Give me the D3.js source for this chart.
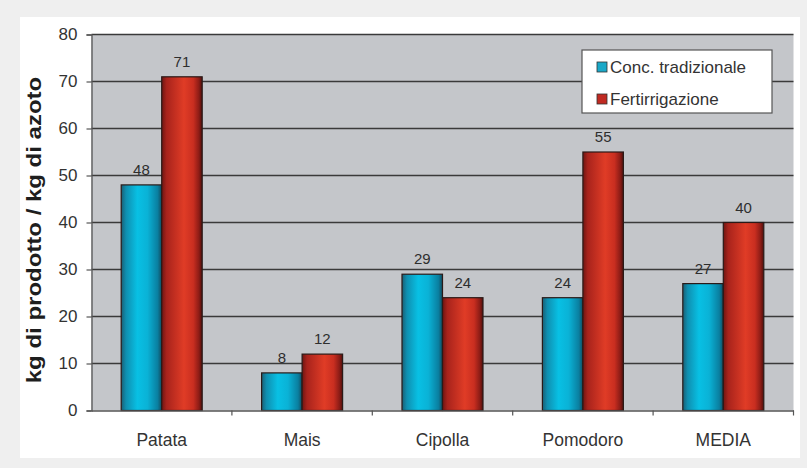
<!DOCTYPE html>
<html>
<head>
<meta charset="utf-8">
<script src="https://cdn.jsdelivr.net/npm/d3@7"></script>
<style>
  html, body { margin: 0; padding: 0; background: #efefef; }
  svg { display: block; }
  text { font-family: "Liberation Sans", Arial, sans-serif; }
</style>
</head>
<body>
<svg id="chart" width="807" height="468"></svg>
<script>
// Nitrogen use efficiency: kg of product per kg of nitrogen
const categories = ["Patata", "Mais", "Cipolla", "Pomodoro", "MEDIA"];
const seriesNames = ["Conc. tradizionale", "Fertirrigazione"];
const tradizionale = [48, 8, 29, 24, 27];
const fertirrigazione = [71, 12, 24, 55, 40];
const yTicks = [0, 10, 20, 30, 40, 50, 60, 70, 80];
const yLabel = "kg di prodotto / kg di azoto";

const svg = d3.select("#chart");
const FONT = "Liberation Sans, Arial, sans-serif";

// white panel
svg.append("rect").attr("x", 20).attr("y", 17).attr("width", 780).attr("height", 441).attr("fill", "#ffffff");

const plot = { left: 91.5, right: 793.5, top: 34.5, bottom: 410.5 };

const x = d3.scaleBand().domain(categories).range([plot.left, plot.right]).paddingInner(0).paddingOuter(0);
const xs = d3.scaleBand().domain(seriesNames).range([0, 81]).padding(0);
const y = d3.scaleLinear().domain([0, 80]).range([plot.bottom, plot.top]);

// gradients
const defs = svg.append("defs");
function grad(id, stops) {
  const g = defs.append("linearGradient").attr("id", id).attr("x1", "0%").attr("x2", "100%").attr("y1", "0%").attr("y2", "0%");
  stops.forEach(([o, c]) => g.append("stop").attr("offset", o).attr("stop-color", c));
}
grad("gBlue", [["0%", "#1b5f74"], ["12%", "#0f8fb0"], ["40%", "#08c0e4"], ["65%", "#0ab2d6"], ["90%", "#0a7fa0"], ["100%", "#124c5e"]]);
grad("gRed", [["0%", "#6e1612"], ["12%", "#a8231c"], ["55%", "#e03c26"], ["78%", "#c92e20"], ["92%", "#8c1c16"], ["100%", "#4e100c"]]);

// plot background
svg.append("rect").attr("x", plot.left).attr("y", plot.top)
  .attr("width", plot.right - plot.left).attr("height", plot.bottom - plot.top)
  .attr("fill", "#c4c6ca");

// gridlines
svg.append("g").selectAll("line").data(yTicks.filter(d => d > 0)).join("line")
  .attr("x1", plot.left).attr("x2", plot.right)
  .attr("y1", d => y(d)).attr("y2", d => y(d))
  .attr("stroke", "#3a3a3a").attr("stroke-width", 1.3);

// bars
const data = categories.map((c, i) => ({ cat: c, vals: [tradizionale[i], fertirrigazione[i]] }));
const fills = ["url(#gBlue)", "url(#gRed)"];
const groups = svg.append("g").selectAll("g").data(data).join("g")
  .attr("transform", d => `translate(${x(d.cat) + (x.bandwidth() - 81) / 2},0)`);
groups.selectAll("rect").data(d => d.vals.map((v, k) => ({ v, k }))).join("rect")
  .attr("x", d => xs(seriesNames[d.k]))
  .attr("y", d => y(d.v))
  .attr("width", xs.bandwidth())
  .attr("height", d => y(0) - y(d.v))
  .attr("fill", d => fills[d.k])
  .attr("stroke", "#2a1a18").attr("stroke-width", 1.2);
groups.selectAll("text").data(d => d.vals.map((v, k) => ({ v, k }))).join("text")
  .attr("x", d => xs(seriesNames[d.k]) + xs.bandwidth() / 2)
  .attr("y", d => y(d.v) - 10)
  .attr("text-anchor", "middle")
  .attr("font-size", 15).attr("fill", "#2e2e2e")
  .text(d => d.v);

// axes
const yAxis = svg.append("g").attr("transform", `translate(${plot.left},0)`)
  .call(d3.axisLeft(y).tickValues(yTicks).tickSize(5).tickPadding(9));
yAxis.select(".domain").attr("stroke", "#555").attr("stroke-width", 1.3);
yAxis.selectAll(".tick line").attr("stroke", "#555").attr("stroke-width", 1.2);
yAxis.selectAll(".tick text").attr("font-size", 17).attr("fill", "#333").attr("font-family", FONT);

const xAxis = svg.append("g").attr("transform", `translate(0,${plot.bottom})`)
  .call(d3.axisBottom(x).tickSize(0).tickPadding(23));
xAxis.select(".domain").attr("stroke", "#555").attr("stroke-width", 1.3);
xAxis.selectAll(".tick text").attr("font-size", 17.5).attr("fill", "#333").attr("font-family", FONT);
// category separators
svg.append("g").selectAll("line").data(categories.concat(["__end"]).slice(1)).join("line")
  .attr("x1", (d, i) => i < categories.length - 1 ? x(d) : plot.right)
  .attr("x2", (d, i) => i < categories.length - 1 ? x(d) : plot.right)
  .attr("y1", plot.bottom).attr("y2", plot.bottom + 5)
  .attr("stroke", "#555").attr("stroke-width", 1.2);

// y axis title
svg.append("text")
  .attr("transform", `translate(41,230) rotate(-90) scale(1.2,1)`)
  .attr("text-anchor", "middle")
  .attr("font-size", 20).attr("font-weight", "bold").attr("fill", "#1e1e1e")
  .text(yLabel);

// legend
const lg = svg.append("g").attr("transform", "translate(582,50)");
lg.append("rect").attr("width", 190).attr("height", 63).attr("fill", "#ffffff")
  .attr("stroke", "#555").attr("stroke-width", 1.2);
const swatchColors = ["#1aa8c8", "#c02a22"];
seriesNames.forEach((n, i) => {
  const row = lg.append("g").attr("transform", `translate(15,${23 + i * 32})`);
  row.append("rect").attr("x", 0).attr("y", -11).attr("width", 10).attr("height", 10)
    .attr("fill", swatchColors[i]).attr("stroke", "#333").attr("stroke-width", 0.8);
  row.append("text").attr("x", 13).attr("y", 0).attr("font-size", 17).attr("fill", "#333").text(n);
});
</script>
</body>
</html>
